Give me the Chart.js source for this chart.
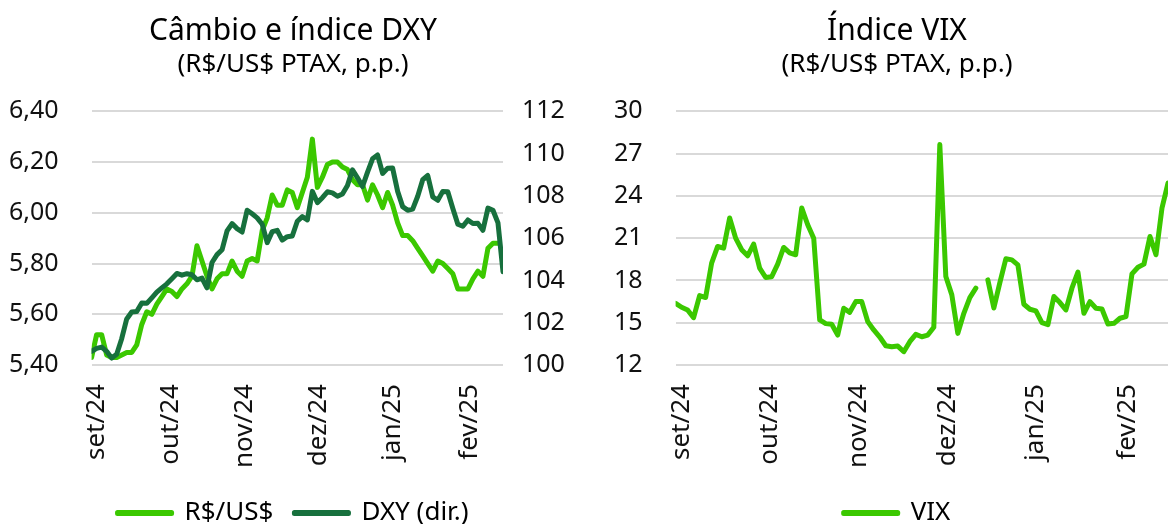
<!DOCTYPE html>
<html lang="pt-BR">
<head>
<meta charset="UTF-8">
<title>Câmbio e índice DXY / Índice VIX</title>
<script src="https://cdn.jsdelivr.net/npm/chart.js@4"></script>
<style>
    html, body { margin: 0; padding: 0; background: #fff; overflow: hidden; }
    body { width: 1169px; height: 524px; position: relative; }
    .box { position: absolute; top: 0; height: 524px; }
    #left { left: 0; width: 585px; }
    #right { left: 605px; width: 584px; }
</style>
</head>
<body>
<div class="box" id="left"><canvas id="cambioChart"></canvas></div>
<div class="box" id="right"><canvas id="vixChart"></canvas></div>

<script>
// month labels and where they sit on the point index axis
const monthLabels = ['set/24', 'out/24', 'nov/24', 'dez/24', 'jan/25', 'fev/25'];
const monthPos = [0.95, 15.7, 30.5, 45.3, 60.0, 75.3];

// R$/US$ PTAX (left axis)
const brl = [5.43, 5.52, 5.52, 5.44, 5.43, 5.43, 5.44, 5.45, 5.45, 5.48,
    5.56, 5.61, 5.60, 5.64, 5.67, 5.70, 5.69, 5.67, 5.70, 5.72,
    5.75, 5.87, 5.81, 5.75, 5.70, 5.74, 5.76, 5.76, 5.81, 5.77,
    5.75, 5.81, 5.82, 5.81, 5.93, 5.98, 6.07, 6.03, 6.03, 6.09,
    6.08, 6.02, 6.08, 6.14, 6.29, 6.10, 6.14, 6.19, 6.20, 6.20,
    6.18, 6.17, 6.13, 6.11, 6.11, 6.05, 6.11, 6.07, 6.02, 6.08,
    6.03, 5.96, 5.91, 5.91, 5.89, 5.86, 5.83, 5.80, 5.77, 5.81,
    5.80, 5.78, 5.76, 5.70, 5.70, 5.70, 5.74, 5.77, 5.75, 5.86,
    5.88, 5.88, null];

// DXY (right axis)
const dxy = [100.65, 100.79, 100.85, 100.65, 100.33, 100.51, 101.25, 102.18, 102.51, 102.53,
    102.94, 102.92, 103.18, 103.45, 103.65, 103.84, 104.08, 104.33, 104.25, 104.32,
    104.27, 104.03, 104.11, 103.65, 104.85, 105.22, 105.45, 106.34, 106.69, 106.45,
    106.29, 107.32, 107.15, 106.96, 106.66, 105.79, 106.31, 106.37, 105.91, 106.07,
    106.10, 106.80, 107.02, 106.86, 108.21, 107.68, 107.91, 108.19, 108.14, 107.98,
    108.09, 108.49, 109.23, 108.85, 108.44, 109.12, 109.75, 109.93, 109.06, 109.30,
    109.31, 108.21, 107.49, 107.32, 107.37, 107.98, 108.76, 108.96, 107.95, 107.79,
    108.21, 108.19, 107.40, 106.66, 106.56, 106.86, 106.69, 106.70, 106.37, 107.42,
    107.32, 106.72, 104.41];

// VIX
const vix = [16.38, 16.10, 15.91, 15.36, 16.93, 16.79, 19.23, 20.41, 20.29, 22.43,
    21.00, 20.18, 19.75, 20.58, 18.87, 18.21, 18.26, 19.16, 20.34, 19.96,
    19.82, 23.14, 21.95, 21.00, 15.20, 14.94, 14.89, 14.13, 16.03, 15.74,
    16.50, 16.50, 15.08, 14.49, 13.99, 13.37, 13.30, 13.35, 12.95, 13.66,
    14.18, 14.01, 14.13, 14.68, 27.64, 18.28, 16.98, 14.25, 15.67, 16.79,
    17.45, null, 18.04, 16.05, 17.85, 19.54, 19.46, 19.11, 16.31, 15.96,
    15.84, 15.01, 14.87, 16.86, 16.43, 15.91, 17.45, 18.59, 15.67, 16.50,
    16.03, 15.98, 14.91, 14.96, 15.32, 15.44, 18.47, 18.94, 19.16, 21.12,
    19.82, 23.14, 24.91];

const pointIdx = vix.map((_, i) => i);

const LIGHT = '#3BC800';
const DARK = '#17703D';
const GRID = '#d9d9d9';
const TXT = '#111';

Chart.defaults.font.family = "'Noto Sans', sans-serif";
Chart.defaults.color = TXT;
Chart.defaults.animation = false;

function lineSet(label, data, color, axis, order) {
    return {
        label: label,
        data: data,
        borderColor: color,
        backgroundColor: color,
        borderWidth: 5,
        borderJoinStyle: 'round',
        borderCapStyle: 'round',
        pointRadius: 0,
        tension: 0,
        yAxisID: axis,
        order: order
    };
}

function xAxis() {
    return {
        type: 'linear',
        min: 0,
        max: pointIdx.length - 1,
        grid: { display: false },
        border: { display: false },
        afterBuildTicks: axis => {
            axis.ticks = monthPos.map(v => ({ value: v }));
        },
        // rotated labels should not push the plot inwards
        afterFit: axis => {
            axis.paddingLeft = 0;
            axis.paddingRight = 0;
        },
        ticks: {
            autoSkip: false,
            minRotation: 90,
            maxRotation: 90,
            padding: 11,
            font: { size: 26 },
            callback: (v, i) => monthLabels[i]
        }
    };
}

function titles(title, sub) {
    return {
        title: {
            display: true, text: title, color: '#000',
            font: { size: 30, weight: 'normal' },
            padding: { top: 13, bottom: 0 }
        },
        subtitle: {
            display: true, text: sub, color: '#000',
            font: { size: 26, weight: 'normal' },
            padding: { bottom: 31 }
        },
        legend: {
            position: 'bottom',
            labels: {
                boxWidth: 54,
                boxHeight: 1,
                padding: 21,
                font: { size: 26 },
                color: '#000',
                sort: (a, b) => a.datasetIndex - b.datasetIndex
            }
        },
        tooltip: { enabled: false }
    };
}

// tick padding is counted twice in the axis width, take one off
const trimLeftAxis = axis => { axis.width -= axis.options.ticks.padding; };

// left: R$/US$ and DXY
new Chart(document.getElementById('cambioChart'), {
    type: 'line',
    data: {
        labels: pointIdx,
        datasets: [
            lineSet('R$/US$', brl, LIGHT, 'y', 1),
            lineSet('DXY (dir.)', dxy, DARK, 'y1', 0)
        ]
    },
    options: {
        responsive: true,
        maintainAspectRatio: false,
        layout: { padding: { left: 9, right: 8, bottom: -12 } },
        plugins: titles('Câmbio e índice DXY', '(R$/US$ PTAX, p.p.)'),
        scales: {
            x: xAxis(),
            y: {
                min: 5.4, max: 6.4,
                afterFit: trimLeftAxis,
                ticks: {
                    stepSize: 0.2, padding: 33, font: { size: 25 },
                    callback: v => v.toFixed(2).replace('.', ',')
                },
                grid: { color: GRID, lineWidth: 2, drawTicks: false },
                border: { display: false }
            },
            y1: {
                position: 'right',
                min: 100, max: 112,
                afterFit: axis => { axis.width = 74; },
                ticks: { stepSize: 2, padding: 11, font: { size: 25 } },
                grid: { display: false },
                border: { display: false }
            }
        }
    }
});

// right: VIX
new Chart(document.getElementById('vixChart'), {
    type: 'line',
    data: {
        labels: pointIdx,
        datasets: [lineSet('VIX', vix, LIGHT, 'y', 0)]
    },
    options: {
        responsive: true,
        maintainAspectRatio: false,
        layout: { padding: { left: 9, right: 9, bottom: -12 } },
        plugins: titles('Índice VIX', '(R$/US$ PTAX, p.p.)'),
        scales: {
            x: xAxis(),
            y: {
                min: 12, max: 30,
                afterFit: trimLeftAxis,
                ticks: { stepSize: 3, padding: 33, font: { size: 25 } },
                grid: { color: GRID, lineWidth: 2, drawTicks: false },
                border: { display: false }
            },
            // empty spacer on the right so the plot stops where the original does
            spacer: {
                position: 'right',
                min: 12, max: 30,
                ticks: { display: false },
                grid: { display: false },
                border: { display: false },
                afterFit: axis => { axis.width = 12; }
            }
        }
    }
});
</script>
</body>
</html>
